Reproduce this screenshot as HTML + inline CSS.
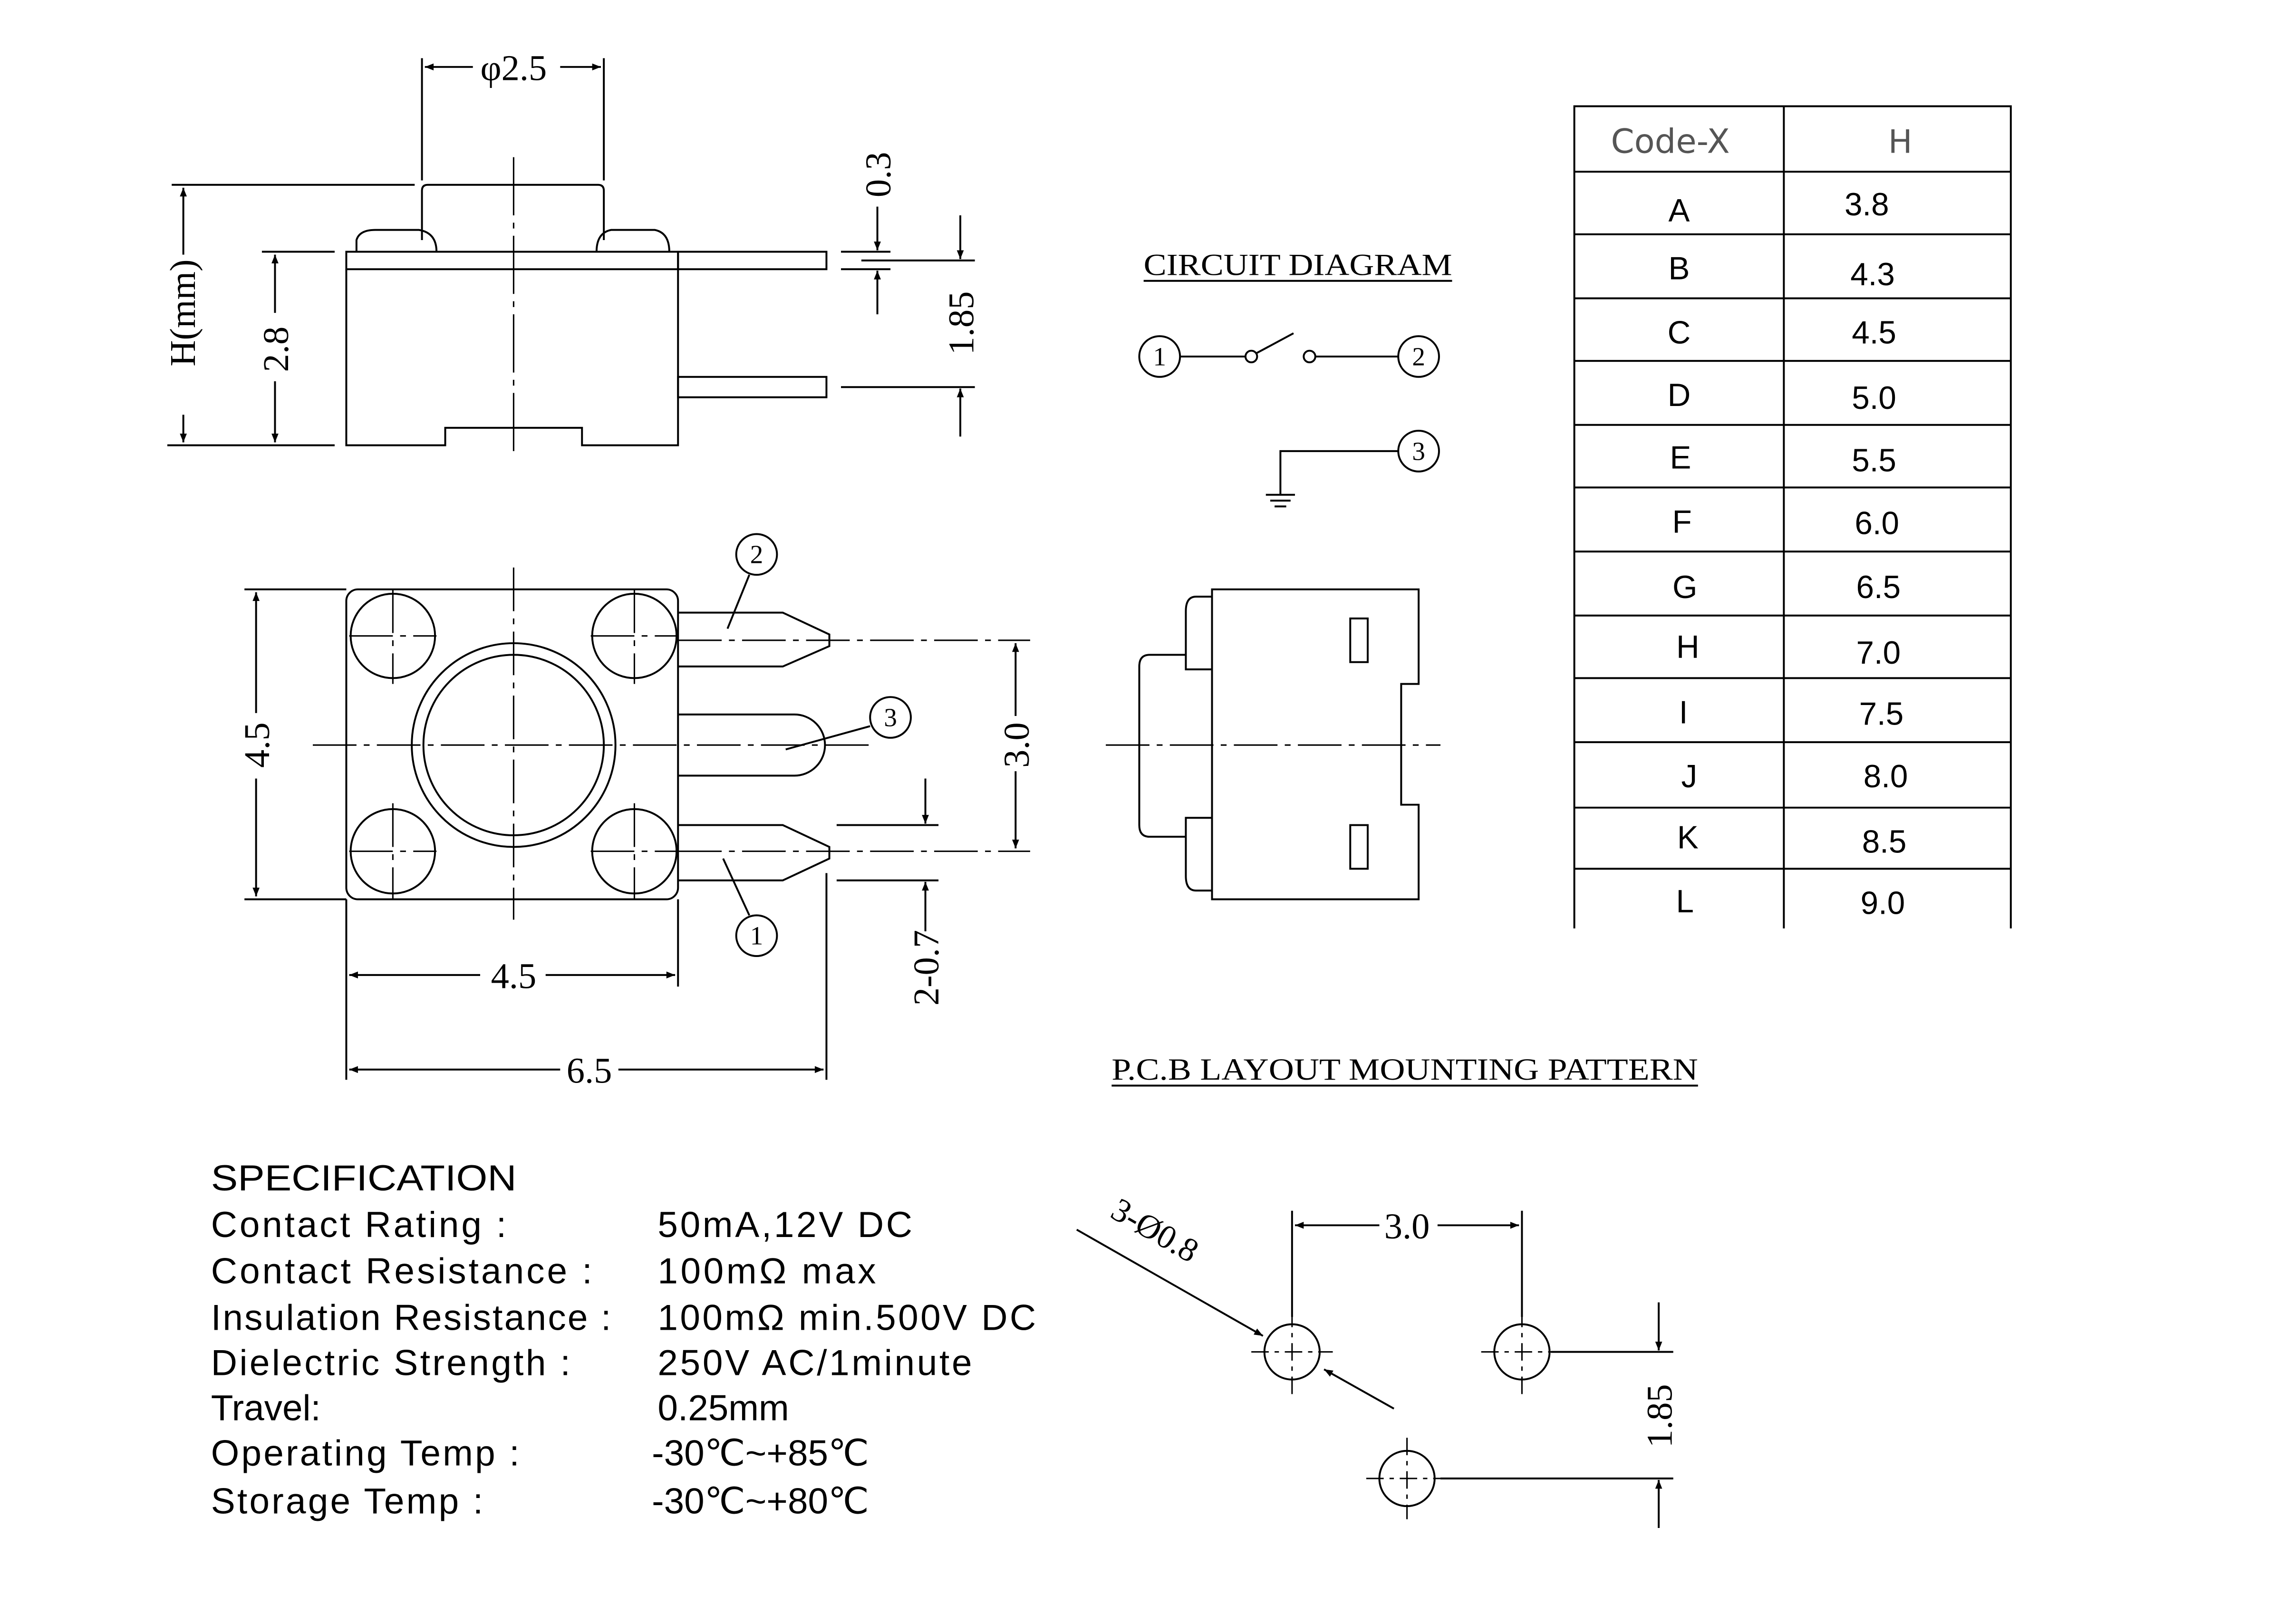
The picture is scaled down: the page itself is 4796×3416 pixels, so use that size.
<!DOCTYPE html>
<html><head><meta charset="utf-8"><style>
html,body{margin:0;padding:0;background:#fff}
svg{display:block}
text{font-family:"Liberation Serif",serif;fill:#000}
.s text{font-family:"Liberation Sans",sans-serif}
</style></head><body>
<svg width="4796" height="3416" viewBox="0 0 1567 1116" preserveAspectRatio="none" xmlns="http://www.w3.org/2000/svg">
<defs>
<marker id="a" viewBox="0 0 10 10" refX="10" refY="5" markerWidth="14" markerHeight="6" markerUnits="userSpaceOnUse" orient="auto-start-reverse"><path d="M0,1 L10,5 L0,9Z" fill="#000"/></marker>
</defs>
<rect width="1567" height="1116" fill="#fff"/>
<g fill="none" stroke="#000" stroke-width="1.3">
<rect x="238" y="173" width="228" height="12"/>
<path d="M238,185 V306 H306 V294 H400 V306 H466 V185"/>
<rect x="466" y="173" width="102" height="12"/>
<rect x="466" y="259" width="102" height="14"/>
<path d="M290,165 V131 Q290,127 294,127 H411 Q415,127 415,131 V165"/>
<path d="M245,173 V165 Q247,158 258,158 H288 Q300,160 300,173"/>
<path d="M410,173 Q410,160 420,158 H450 Q460,160 460,173"/>
<path d="M353,108 V312" stroke-dasharray="40,5,4,5" stroke-width="1"/>
<line x1="290" y1="40" x2="290" y2="124"/><line x1="415" y1="40" x2="415" y2="124"/>
<line x1="292" y1="46" x2="325" y2="46" marker-start="url(#a)"/><line x1="385" y1="46" x2="413" y2="46" marker-end="url(#a)"/>
<line x1="118" y1="127" x2="285" y2="127"/><line x1="115" y1="306" x2="230" y2="306"/>
<line x1="126" y1="129" x2="126" y2="175" marker-start="url(#a)"/><line x1="126" y1="285" x2="126" y2="304" marker-end="url(#a)"/>
<line x1="180" y1="173" x2="230" y2="173"/>
<line x1="189" y1="175" x2="189" y2="215" marker-start="url(#a)"/><line x1="189" y1="262" x2="189" y2="304" marker-end="url(#a)"/>
<line x1="578" y1="173" x2="612" y2="173"/><line x1="578" y1="185" x2="612" y2="185"/>
<line x1="603" y1="142" x2="603" y2="172" marker-end="url(#a)"/><line x1="603" y1="216" x2="603" y2="186" marker-end="url(#a)"/>
<line x1="592" y1="179" x2="670" y2="179"/><line x1="578" y1="266" x2="670" y2="266"/>
<line x1="660" y1="148" x2="660" y2="178" marker-end="url(#a)"/><line x1="660" y1="300" x2="660" y2="267" marker-end="url(#a)"/>
<circle cx="797" cy="245" r="14"/><circle cx="975" cy="245" r="14"/><circle cx="975" cy="310" r="14"/>
<line x1="811" y1="245" x2="856" y2="245"/><circle cx="860" cy="245" r="4"/>
<line x1="863" y1="243" x2="889" y2="229"/><circle cx="900" cy="245" r="4"/>
<line x1="904" y1="245" x2="961" y2="245"/>
<path d="M961,310 H880 V340"/>
<line x1="870" y1="340" x2="890" y2="340"/><line x1="873" y1="344" x2="887" y2="344"/><line x1="876" y1="348" x2="884" y2="348"/>
<line x1="786" y1="193" x2="998" y2="193"/>
<path d="M1082,638 V73 H1382 V638 M1226,73 V638"/>
<path d="M1082,118H1382M1082,161H1382M1082,205H1382M1082,248H1382M1082,292H1382M1082,335H1382M1082,379H1382M1082,423H1382M1082,466H1382M1082,510H1382M1082,555H1382M1082,597H1382"/>
<rect x="238" y="405" width="228" height="213" rx="8"/>
<circle cx="270" cy="437" r="29"/><circle cx="436" cy="437" r="29"/><circle cx="270" cy="585" r="29"/><circle cx="436" cy="585" r="29"/>
<circle cx="353" cy="512" r="70"/><circle cx="353" cy="512" r="62"/>
<path d="M466,421 H538 L570,436 V444 L538,458 H466"/>
<path d="M466,491 H546 A21,21 0 0 1 546,533 H466"/>
<path d="M466,567 H538 L570,582 V590 L538,605 H466"/>
<g stroke-width="1" stroke-dasharray="30,5,4,5">
<line x1="215" y1="512" x2="600" y2="512"/><line x1="353" y1="390" x2="353" y2="632"/>
<line x1="466" y1="440" x2="708" y2="440"/><line x1="466" y1="585" x2="708" y2="585"/>
<line x1="240" y1="437" x2="300" y2="437"/><line x1="406" y1="437" x2="466" y2="437"/>
<line x1="240" y1="585" x2="300" y2="585"/><line x1="406" y1="585" x2="466" y2="585"/>
<line x1="270" y1="405" x2="270" y2="470"/><line x1="436" y1="405" x2="436" y2="470"/>
<line x1="270" y1="552" x2="270" y2="618"/><line x1="436" y1="552" x2="436" y2="618"/>
</g>
<circle cx="520" cy="381" r="14"/><line x1="515" y1="395" x2="500" y2="432"/>
<circle cx="612" cy="493" r="14"/><line x1="598" y1="499" x2="540" y2="515"/>
<circle cx="520" cy="643" r="14"/><line x1="515" y1="629" x2="497" y2="590"/>
<line x1="168" y1="405" x2="238" y2="405"/><line x1="168" y1="618" x2="238" y2="618"/>
<line x1="176" y1="407" x2="176" y2="490" marker-start="url(#a)"/><line x1="176" y1="535" x2="176" y2="616" marker-end="url(#a)"/>
<line x1="698" y1="442" x2="698" y2="492" marker-start="url(#a)"/><line x1="698" y1="530" x2="698" y2="583" marker-end="url(#a)"/>
<line x1="575" y1="567" x2="645" y2="567"/><line x1="575" y1="605" x2="645" y2="605"/>
<line x1="636" y1="535" x2="636" y2="566" marker-end="url(#a)"/><line x1="636" y1="640" x2="636" y2="606" marker-end="url(#a)"/>
<line x1="238" y1="618" x2="238" y2="742"/><line x1="466" y1="618" x2="466" y2="678"/><line x1="568" y1="600" x2="568" y2="742"/>
<line x1="240" y1="670" x2="330" y2="670" marker-start="url(#a)"/><line x1="375" y1="670" x2="464" y2="670" marker-end="url(#a)"/>
<line x1="240" y1="735" x2="385" y2="735" marker-start="url(#a)"/><line x1="425" y1="735" x2="566" y2="735" marker-end="url(#a)"/>
<path d="M833,405 H975 V470 H963 V553 H975 V618 H833 Z"/>
<path d="M833,410 H822 Q815,410 815,420 V460 H833"/>
<path d="M833,562 H815 V602 Q815,612 822,612 H833"/>
<path d="M815,450 H790 Q783,450 783,458 V567 Q783,575 790,575 H815"/>
<rect x="928" y="425" width="12" height="30"/><rect x="928" y="567" width="12" height="30"/>
<line x1="760" y1="512" x2="990" y2="512" stroke-width="1" stroke-dasharray="30,5,4,5"/>
<line x1="764" y1="746" x2="1167" y2="746"/>
<circle cx="888" cy="929" r="19"/><circle cx="1046" cy="929" r="19"/><circle cx="967" cy="1016" r="19"/>
<g stroke-width="1" stroke-dasharray="12,4,3,4">
<line x1="860" y1="929" x2="916" y2="929"/><line x1="888" y1="900" x2="888" y2="958"/>
<line x1="1018" y1="929" x2="1074" y2="929"/><line x1="1046" y1="900" x2="1046" y2="958"/>
<line x1="939" y1="1016" x2="995" y2="1016"/><line x1="967" y1="988" x2="967" y2="1044"/>
</g>
<line x1="888" y1="832" x2="888" y2="905"/><line x1="1046" y1="832" x2="1046" y2="905"/>
<line x1="890" y1="842" x2="948" y2="842" marker-start="url(#a)"/><line x1="988" y1="842" x2="1044" y2="842" marker-end="url(#a)"/>
<line x1="1066" y1="929" x2="1150" y2="929"/><line x1="990" y1="1016" x2="1150" y2="1016"/>
<line x1="1140" y1="895" x2="1140" y2="928" marker-end="url(#a)"/><line x1="1140" y1="1050" x2="1140" y2="1017" marker-end="url(#a)"/>
<line x1="740" y1="845" x2="868" y2="918" marker-end="url(#a)"/>
<line x1="958" y1="968" x2="910" y2="941" marker-end="url(#a)"/>
</g>
<g font-size="25">
<text x="353" y="55" text-anchor="middle">φ2.5</text>
<text transform="translate(134,215) rotate(-90)" text-anchor="middle">H(mm)</text>
<text transform="translate(198,240) rotate(-90)" text-anchor="middle">2.8</text>
<text transform="translate(612,120) rotate(-90)" text-anchor="middle">0.3</text>
<text transform="translate(669,222) rotate(-90)" text-anchor="middle">1.85</text>
<text transform="translate(185,512) rotate(-90)" text-anchor="middle">4.5</text>
<text transform="translate(707,512) rotate(-90)" text-anchor="middle">3.0</text>
<text transform="translate(645,665) rotate(-90)" text-anchor="middle">2-0.7</text>
<text x="353" y="679" text-anchor="middle">4.5</text>
<text x="405" y="744" text-anchor="middle">6.5</text>
<text x="967" y="851" text-anchor="middle">3.0</text>
<text transform="translate(1149,973) rotate(-90)" text-anchor="middle">1.85</text>
<text transform="translate(790,852) rotate(30)" text-anchor="middle" font-size="23">3-Ø0.8</text>
</g>
<g font-size="18" text-anchor="middle">
<text x="797" y="251">1</text><text x="975" y="251">2</text><text x="975" y="316">3</text>
<text x="520" y="387">2</text><text x="612" y="499">3</text><text x="520" y="649">1</text>
</g>
<text x="786" y="189" font-size="21" textLength="212" lengthAdjust="spacingAndGlyphs">CIRCUIT DIAGRAM</text>
<text x="764" y="742" font-size="21" textLength="403" lengthAdjust="spacingAndGlyphs">P.C.B LAYOUT MOUNTING PATTERN</text>
<g class="s" font-size="22" text-anchor="middle">
<text x="1148" y="105" style="fill:#555;font-family:'DejaVu Sans',sans-serif" font-size="23">Code-X</text>
<text x="1306" y="105" style="fill:#555;font-family:'DejaVu Sans',sans-serif">H</text>
<text x="1154" y="152">A</text><text x="1283" y="148">3.8</text>
<text x="1154" y="192">B</text><text x="1287" y="196">4.3</text>
<text x="1154" y="236">C</text><text x="1288" y="236">4.5</text>
<text x="1154" y="279">D</text><text x="1288" y="281">5.0</text>
<text x="1155" y="322">E</text><text x="1288" y="324">5.5</text>
<text x="1156" y="366">F</text><text x="1290" y="367">6.0</text>
<text x="1158" y="411">G</text><text x="1291" y="411">6.5</text>
<text x="1160" y="452">H</text><text x="1291" y="456">7.0</text>
<text x="1157" y="497">I</text><text x="1293" y="498">7.5</text>
<text x="1161" y="541">J</text><text x="1296" y="541">8.0</text>
<text x="1160" y="583">K</text><text x="1295" y="586">8.5</text>
<text x="1158" y="627">L</text><text x="1294" y="628">9.0</text>
</g>
<g class="s" font-size="25">
<text x="145" y="818" textLength="210" lengthAdjust="spacingAndGlyphs">SPECIFICATION</text>
<text x="145" y="850" textLength="203">Contact  Rating :</text><text x="452" y="850" textLength="175">50mA,12V DC</text>
<text x="145" y="882" textLength="262">Contact  Resistance :</text><text x="452" y="882" textLength="150">100mΩ max</text>
<text x="145" y="914" textLength="275">Insulation Resistance :</text><text x="452" y="914" textLength="260">100mΩ min.500V DC</text>
<text x="145" y="945" textLength="247">Dielectric  Strength :</text><text x="452" y="945" textLength="216">250V AC/1minute</text>
<text x="145" y="976">Travel:</text><text x="452" y="976">0.25mm</text>
<text x="145" y="1007" textLength="212">Operating Temp :</text><text x="448" y="1007">-30℃~+85℃</text>
<text x="145" y="1040" textLength="187">Storage Temp :</text><text x="448" y="1040">-30℃~+80℃</text>
</g>
</svg>
</body></html>
